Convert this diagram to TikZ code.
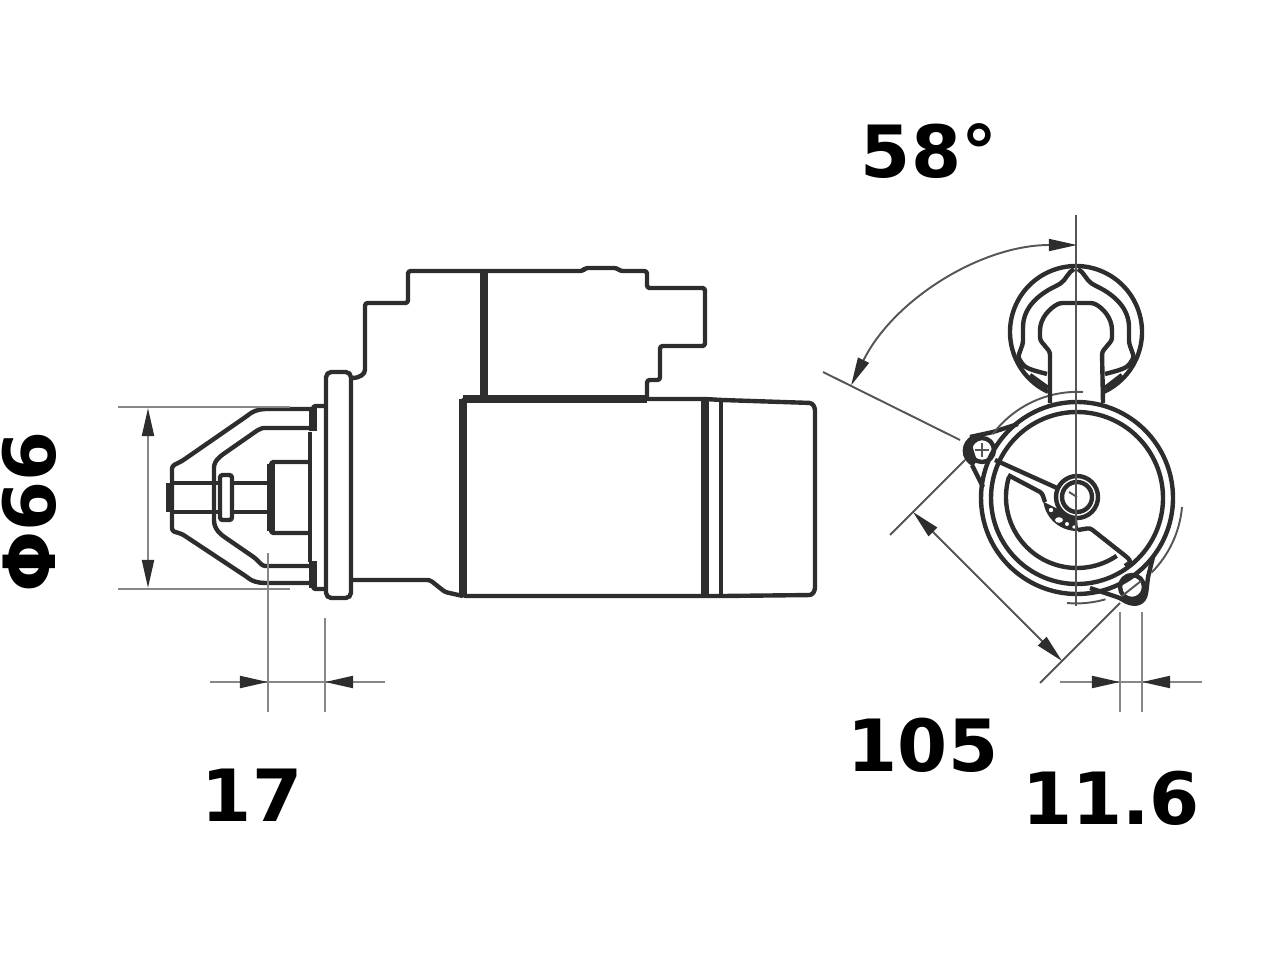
\documentclass[tikz,border=0pt]{standalone}
\usepackage{fontspec}
\setmainfont{DejaVu Sans}
\usetikzlibrary{arrows.meta}
\definecolor{partink}{RGB}{45,45,45}
\definecolor{dimink}{RGB}{135,135,135}
\definecolor{thinink}{RGB}{85,85,85}
\begin{document}
\begin{tikzpicture}[x=0.02cm,y=-0.02cm,
  outl/.style={draw=partink, line width=2.5pt, line join=round, rounded corners=1.5pt},
  heavy/.style={draw=partink, line width=4pt},
  thinl/.style={draw=thinink, line width=1.1pt},
  dimln/.style={draw=dimink, line width=1.3pt},
  bigtip/.style={{Triangle[length=16pt,width=6.8pt,color=partink]}-{Triangle[length=16pt,width=6.8pt,color=partink]}},
  dimtip/.style={draw=dimink, line width=1.3pt, -{Triangle[length=16pt,width=6.8pt,color=partink]}},
  dimlabel/.style={font=\bfseries\fontsize{41}{41}\selectfont, text=black, inner sep=0pt}]
\useasboundingbox (0,0) rectangle (1280,960);
% Nose side
\draw[outl] (326,406) -- (313,406) -- (313,430);
\draw[outl] (326,589) -- (313,589) -- (313,562);
\draw[heavy] (313,407) -- (313,431) (313,561) -- (313,588);
\draw[outl] (313,409) -- (268,409) .. controls (258,409) and (252,412) .. (247,416) -- (182,461) -- (172,466) -- (172,531) -- (182,534) -- (247,577) .. controls (252,581) and (258,583) .. (268,583) -- (313,583);
\draw[outl] (313,428) -- (266,428) .. controls (262,428) and (258,430) .. (255,432) -- (222,455) .. controls (216,460) and (214,464) .. (214,470) -- (214,518) .. controls (214,526) and (217,531) .. (223,536) -- (255,558) .. controls (259,562) and (262,566) .. (268,566) -- (313,566);
\draw[outl] (310,432) -- (310,562);
\draw[heavy] (170,483) -- (170,512);
\draw[outl] (172,483) -- (220,483) (172,512) -- (220,512) (232,483) -- (270,483) (232,512) -- (270,512);
\draw[outl, fill=white] (220,475) rectangle (232,520);
\draw[outl] (310,462) -- (271,462) -- (271,533) -- (310,533);
\draw[heavy] (271,464) -- (271,531);
% Flange
\draw[outl, rounded corners=3pt] (326,372) rectangle (351,598);
% Solenoid
\draw[outl] (352,378) .. controls (360,378) and (365,374) .. (365,367) -- (365,303) -- (408,303) -- (408,271) -- (583,271) -- (585,268) -- (617,268) -- (620,271) -- (647,271) -- (647,288) -- (705,288) -- (705,346) -- (660,346) -- (660,380) -- (647,380) -- (647,398);
\draw[line width=4.2pt, draw=partink] (484,271) -- (484,398);
% Motor body
\draw[outl] (463,399) -- (705,399) -- (722,400) -- (812,403) -- (815,408) -- (815,590) -- (812,595) -- (722,596) -- (463,596) -- cycle;
\draw[heavy] (463,399) -- (647,399) (463,399) -- (463,596);
\draw[heavy] (705,400) -- (705,596);
\draw[outl] (721,400) -- (721,596);
\draw[outl] (352,580) -- (430,580) -- (445,592) -- (463,596);
% Front view, housing
\draw[outl] (1077,498) circle[radius=96];
\draw[outl] (1077,498) circle[radius=86];
% Sector inside the housing
\draw[outl] (995,460) -- (1057,488);
\draw[outl] (1008,475) -- (1042,493) -- (1045,502);
\draw[outl] (1077,497) ++(196:71) arc[start angle=196, end angle=56, radius=71];
\fill[partink] (1077,497) ++(172:34) arc[start angle=172, end angle=88, radius=34] -- (1077,518) arc[start angle=90, end angle=140, radius=21] -- cycle;
\draw[outl] (1078,530) -- (1090,528) -- (1128,558) -- (1131,562) -- (1125,566);
\fill[white] (1051,510) circle[radius=2.2] (1059,520) ellipse[x radius=4, y radius=2.8] (1067,524) circle[radius=2] (1074,527) circle[radius=1.8];
% Hub
\draw[outl, fill=white] (1077,497) circle[radius=21];
\draw[outl] (1077,497) circle[radius=15];
\draw[thinl] (1077,497) -- (1069,492);
% Ears
\draw[outl] (1018,424) -- (993,432) -- (970,437);
\draw[outl] (972,465) -- (983,487);
\fill[partink] (974,435) .. controls (959,440) and (959,461) .. (973,466) -- (977,461) -- (972,445) -- (984,437) -- cycle;
\draw[outl] (982,450) circle[radius=12];
\draw[thinl] (975,450) -- (989,450) (982,443) -- (982,457);
\draw[outl] (1090,588) -- (1120,598) .. controls (1132,606) and (1142,605) .. (1146,594) -- (1148,577) -- (1153,557);
\fill[partink] (1118,597) .. controls (1130,608) and (1144,607) .. (1147,592) -- (1140,596) -- (1128,599) -- cycle;
\draw[outl] (1132,587) circle[radius=12];
\draw[thinl] (1122,596) -- (1141,581);
% Thin arcs round the housing
\draw[thinl] (1083,392) arc[start angle=273, end angle=217, radius=106];
\draw[thinl] (1182,507) arc[start angle=5, end angle=45, radius=106];
\draw[thinl] (1067,603) arc[start angle=95, end angle=74, radius=106];
% Terminal cap
\draw[outl] (1076,332) ++(115:66) arc[start angle=115, end angle=425, radius=66];
\draw[outl] (1074,269) .. controls (1068,272) and (1066,280) .. (1058,285) .. controls (1035,296) and (1023,310) .. (1023,330) -- (1023,343) -- (1018,357) -- (1023,365) .. controls (1030,370) and (1040,372) .. (1047,374);
\draw[outl] (1078,269) .. controls (1084,272) and (1086,280) .. (1094,285) .. controls (1117,296) and (1129,310) .. (1129,330) -- (1129,343) -- (1134,357) -- (1129,365) .. controls (1122,370) and (1112,372) .. (1105,374);
\draw[outl] (1050,403) -- (1050,352) -- (1040,340) -- (1040,333) .. controls (1040,318) and (1050,308) .. (1060,303) -- (1093,303) .. controls (1103,308) and (1112,318) .. (1112,333) -- (1112,340) -- (1102,352) -- (1103,403);
\draw[outl] (1030,375) -- (1048,388) (1122,375) -- (1105,388);
% Dimension 66
\draw[dimln] (118,407) -- (290,407);
\draw[dimln] (118,589) -- (290,589);
\draw[dimln, bigtip] (148,408) -- (148,588);
% Dimension 17
\draw[dimln] (268,553) -- (268,712);
\draw[dimln] (325,618) -- (325,712);
\draw[dimln] (210,682) -- (385,682);
\draw[dimtip] (236,682) -- (268,682);
\draw[dimtip] (357,682) -- (325,682);
% Dimension 58 degrees
\draw[thinl] (1076,215) -- (1076,606);
\draw[thinl] (823,372) -- (960,440);
\draw[thinl, bigtip] (1077,497) ++(270:252) arc[start angle=270, end angle=206.3, radius=252];
% Dimension 105
\draw[thinl] (890,535) -- (965,460);
\draw[thinl] (1040,683) -- (1120,603);
\draw[thinl, bigtip] (913,512) -- (1062,661);
% Dimension 11.6
\draw[dimln] (1120,612) -- (1120,712);
\draw[dimln] (1142,612) -- (1142,712);
\draw[dimln] (1060,682) -- (1202,682);
\draw[dimtip] (1088,682) -- (1120,682);
\draw[dimtip] (1174,682) -- (1142,682);
% Labels
\node[dimlabel] (lblangle) at (929,151) {58°};
\node[dimlabel] (lbldepth) at (923,745) {105};
\node[dimlabel] (lblhole) at (1111,798) {11.6};
\node[dimlabel] (lblpinion) at (252,795) {17};
\node[dimlabel, rotate=90] (lbldia) at (29,512) {Φ66};
\end{tikzpicture}
\end{document}
